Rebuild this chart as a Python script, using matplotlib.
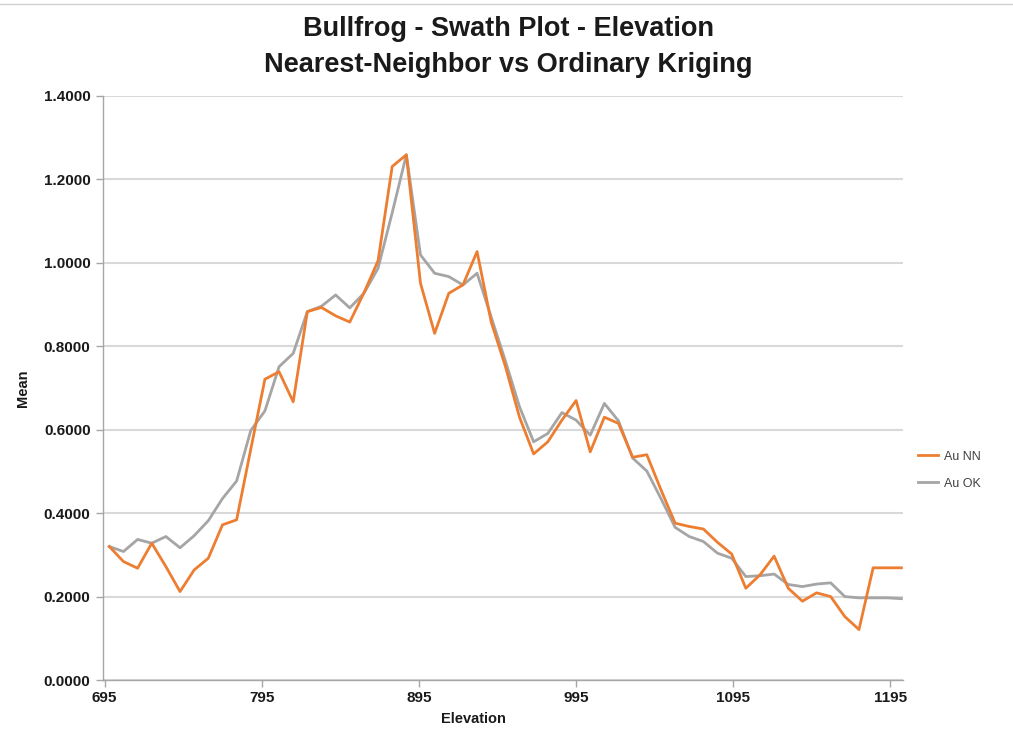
import matplotlib

matplotlib.use("Agg")

import matplotlib.pyplot as plt
from matplotlib.lines import Line2D
from matplotlib.ticker import FormatStrFormatter

plt.rcParams["font.family"] = ["Liberation Sans", "DejaVu Sans"]

# bench elevations (swath centres)
ELEVATION = [
    698, 707, 716, 725, 734, 743, 752, 761, 770, 779,
    788, 797, 806, 815, 824, 833, 842, 851, 860, 869,
    878, 887, 896, 905, 914, 923, 932, 941, 950, 959,
    968, 977, 986, 995, 1004, 1013, 1022, 1031, 1040, 1049,
    1058, 1067, 1076, 1085, 1094, 1103, 1112, 1121, 1130, 1139,
    1148, 1157, 1166, 1175, 1184, 1193, 1202,
]

AU_NN = [
    0.320, 0.284, 0.268, 0.328, 0.272, 0.212, 0.264, 0.292, 0.372, 0.384,
    0.553, 0.721, 0.739, 0.667, 0.883, 0.893, 0.873, 0.858, 0.928, 1.005,
    1.231, 1.259, 0.951, 0.831, 0.927, 0.947, 1.027, 0.858, 0.752, 0.630,
    0.542, 0.571, 0.623, 0.670, 0.547, 0.630, 0.615, 0.534, 0.540, 0.456,
    0.376, 0.368, 0.362, 0.330, 0.302, 0.220, 0.252, 0.297, 0.220, 0.189,
    0.209, 0.200, 0.152, 0.121, 0.269, 0.269, 0.269,
]

AU_OK = [
    0.320, 0.308, 0.337, 0.328, 0.344, 0.317, 0.346, 0.382, 0.435, 0.477,
    0.598, 0.645, 0.751, 0.783, 0.883, 0.896, 0.923, 0.892, 0.927, 0.987,
    1.120, 1.259, 1.019, 0.975, 0.967, 0.947, 0.975, 0.870, 0.765, 0.655,
    0.571, 0.591, 0.641, 0.623, 0.587, 0.663, 0.621, 0.532, 0.501, 0.435,
    0.366, 0.344, 0.332, 0.304, 0.292, 0.248, 0.250, 0.254, 0.229, 0.224,
    0.230, 0.233, 0.200, 0.197, 0.197, 0.197, 0.195,
]

X_TICKS = [695, 795, 895, 995, 1095, 1195]
Y_TICKS = [0.0, 0.2, 0.4, 0.6, 0.8, 1.0, 1.2, 1.4]

NN_COLOR = "#ED7D31"
OK_COLOR = "#A5A5A5"
GRID_COLOR = "#D9D9D9"
AXIS_COLOR = "#A6A6A6"


def main() -> None:
    fig = plt.figure(figsize=(10.13, 7.45), dpi=100)
    ax = fig.add_axes([0.1017, 0.0872, 0.7897, 0.7840])

    ax.plot(ELEVATION, AU_NN, color=NN_COLOR, lw=2.0, label="Au NN", zorder=3)
    ax.plot(ELEVATION, AU_OK, color=OK_COLOR, lw=2.0, label="Au OK", zorder=2)

    ax.set_xlim(694, 1203)
    ax.set_ylim(0, 1.4)
    ax.set_xticks(X_TICKS)
    ax.set_yticks(Y_TICKS)
    ax.yaxis.set_major_formatter(FormatStrFormatter("%.4f"))

    ax.grid(axis="y", color=GRID_COLOR, lw=1.5, zorder=0)
    ax.set_axisbelow(True)
    for side in ("top", "right"):
        ax.spines[side].set_visible(False)
    for side in ("left", "bottom"):
        ax.spines[side].set_color(AXIS_COLOR)
        ax.spines[side].set_linewidth(1.0)

    ax.tick_params(axis="both", colors=AXIS_COLOR, length=5, width=1.0,
                   labelcolor="#1A1A1A", labelsize=11)
    ax.tick_params(axis="y", pad=4)
    ax.tick_params(axis="x", pad=3)
    for lab in ax.get_xticklabels() + ax.get_yticklabels():
        lab.set_fontweight("bold")

    ax.set_xlabel("Elevation", fontsize=10.5, fontweight="bold", color="#1A1A1A", labelpad=3)
    ax.xaxis.set_label_coords(0.463, -0.055)
    ax.set_ylabel("Mean", fontsize=10.5, fontweight="bold", color="#1A1A1A", labelpad=10)

    fig.suptitle("Bullfrog - Swath Plot - Elevation\nNearest-Neighbor vs Ordinary Kriging",
                 x=0.502, y=0.978, fontsize=19.5, fontweight="bold", color="#1A1A1A",
                 linespacing=1.5)

    handles = [Line2D([], [], color=NN_COLOR, lw=2.0), Line2D([], [], color=OK_COLOR, lw=2.0)]
    fig.legend(handles, ["Au NN", "Au OK"], loc="center left", bbox_to_anchor=(0.895, 0.369),
               frameon=False, fontsize=9, handlelength=1.6, handletextpad=0.5,
               labelspacing=1.2, labelcolor="#404040")

    # thin border line along the top of the slide image
    fig.add_artist(Line2D([0, 1], [0.994, 0.994], color="#D0D0D0", lw=1.0,
                          transform=fig.transFigure))

    fig.savefig("out.png", dpi=100)
    plt.close(fig)


if __name__ == "__main__":
    main()
